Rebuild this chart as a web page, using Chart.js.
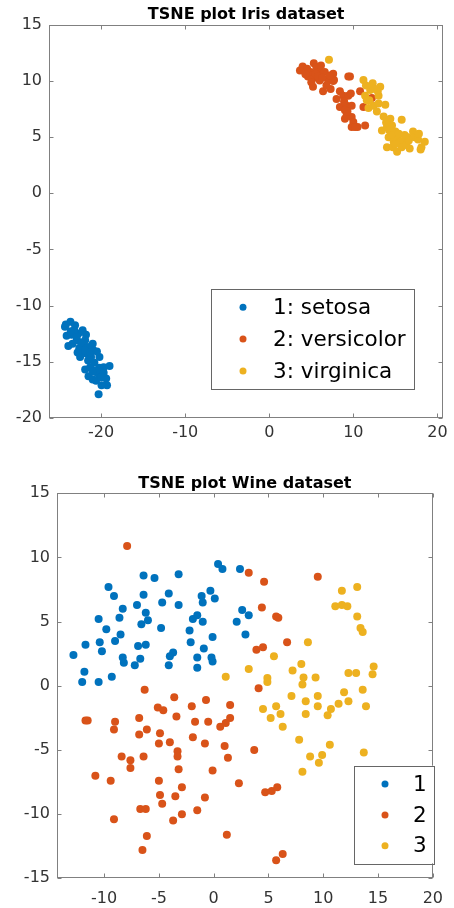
<!DOCTYPE html>
<html><head><meta charset="utf-8">
<script src="https://cdn.jsdelivr.net/npm/chart.js@4"></script>
<style>
html,body{margin:0;padding:0;background:#fff;}
#wrap{position:relative;width:454px;height:908px;overflow:hidden;}
.box{position:absolute;left:0;width:454px;height:454px;}
</style></head><body>
<div id="wrap">
<div class="box" style="top:0"><canvas id="c1" width="454" height="454"></canvas></div>
<div class="box" style="top:454px"><canvas id="c2" width="454" height="454"></canvas></div>
</div>
<script>
const FONT = "'DejaVu Sans', sans-serif";
const COLORS = ['#0072BD', '#D95319', '#EDB120'];

// ---------- Iris ----------
const irisTitle = "TSNE plot Iris dataset";
const irisLabels = ["1: setosa", "2: versicolor", "3: virginica"];
const irisXTicks = [-20, -10, 0, 10, 20];
const irisYTicks = [-20, -15, -10, -5, 0, 5, 10, 15];
const setosaX = [-24.2,-23.65,-23.1,-24.1,-23.9,-23.5,-22.7,-22.9,-22.2,-21.8,-22.2,-22.3,-22.5,-21.7,-21.55,-21.0,-20.95,-21.2,-20.2,-21.9,-21.3,-21.5,-21.0,-20.4,-20.6,-20.2,-19.7,-19.4,-19.3,-19.95,-20.3,-19.0,-19.7,-21.55,-23.2,-24.3,-22.6,-21.9,-23.6,-22.9,-22.4,-21.9,-21.3,-20.8,-20.6,-21.0,-20.0,-22.8,-23.4,-20.5];
const setosaY = [-11.7,-11.45,-11.75,-12.7,-13.6,-12.6,-12.5,-13.1,-12.2,-12.6,-13.5,-14.1,-14.6,-14.3,-14.9,-13.4,-13.97,-14.6,-14.6,-15.7,-15.5,-16.3,-16.6,-16.05,-16.7,-15.55,-15.5,-16.5,-17.1,-17.1,-17.9,-15.4,-16.0,-13.7,-12.2,-11.9,-13.8,-13.1,-12.3,-12.8,-13.3,-14.0,-14.2,-15.1,-15.8,-15.9,-16.4,-14.2,-13.4,-14.1];
const versicolorX = [3.65,3.97,5.3,4.6,4.9,5.6,5.95,5.4,5.0,6.0,6.6,7.6,7.7,7.0,7.3,6.4,4.5,6.15,5.5,9.6,9.4,8.4,8.0,8.8,9.4,9.7,8.4,9.2,9.8,9.0,9.2,9.0,9.8,10.0,9.8,10.5,11.4,10.8,11.2,12.2,5.2,7.6,5.8,6.3,4.3,7.2,6.8,8.9,9.3,10.2];
const versicolorY = [10.95,11.3,11.6,10.4,10.8,11.25,10.8,10.3,9.9,10.06,10.8,10.65,10.1,10.1,9.3,9.1,11.1,11.4,10.65,10.4,10.4,9.1,8.4,8.7,8.7,8.9,7.7,7.8,7.8,7.4,6.9,6.65,6.8,6.35,5.9,5.9,6.05,9.1,7.7,8.5,9.5,10.0,10.4,10.3,10.6,10.5,9.6,8.2,7.3,5.9];
const virginicaX = [7.1,11.2,12.3,13.2,12.6,12.0,11.4,11.6,12.4,11.8,13.8,13.6,14.4,15.75,13.4,14.0,14.6,15.0,14.2,15.2,14.0,14.7,15.2,15.6,16.0,16.5,17.1,17.3,17.7,18.5,18.1,16.7,18.0,15.75,16.1,13.0,11.9,12.9,11.5,14.8,15.4,16.3,17.8,14.3,13.9,15.0,12.8,16.6,13.0,14.5];
const virginicaY = [11.9,10.1,9.8,9.5,9.3,9.2,8.7,8.3,7.8,7.6,7.9,6.85,6.65,6.55,5.6,5.9,6.05,5.5,5.0,5.0,4.1,4.1,3.7,4.6,4.7,5.0,5.5,5.0,4.8,4.6,4.1,4.0,3.9,4.1,5.2,8.7,8.3,9.1,9.6,4.6,5.3,4.3,5.3,5.6,6.3,4.4,7.3,4.7,8.0,5.2];

// ---------- Wine ----------
const wineTitle = "TSNE plot Wine dataset";
const wineLabels = ["1", "2", "3"];
const wineXTicks = [-10, -5, 0, 5, 10, 15, 20];
const wineYTicks = [-15, -10, -5, 0, 5, 10, 15];
const wine1X = [-12.8,-11.7,-11.8,-12.0,-10.5,-10.5,-10.4,-10.2,-9.6,-9.1,-9.8,-9.3,-9.0,-8.6,-8.3,-8.5,-8.3,-8.2,-7.0,-6.4,-6.4,-6.2,-6.0,-6.6,-6.9,-6.2,-6.7,-7.2,-5.4,-4.7,-4.1,-4.8,-3.7,-4.0,-4.1,-3.2,-3.2,-2.2,-2.1,-1.9,-1.5,-1.0,-1.1,-1.0,-1.5,-1.5,-0.9,-0.3,0.1,-0.1,-0.2,-0.1,0.4,0.8,2.4,2.6,3.2,2.1,2.9];
const wine1Y = [2.4,3.2,1.1,0.3,0.3,5.2,3.4,2.7,7.7,7.0,4.4,0.7,3.5,5.3,6.0,4.0,2.2,1.8,6.3,8.6,7.1,5.7,5.1,4.8,3.1,3.2,2.1,1.6,8.4,6.5,7.2,4.5,2.6,2.3,1.6,8.7,6.3,4.3,3.4,5.2,5.5,5.0,7.0,6.5,2.2,1.4,2.9,7.4,6.8,3.8,2.2,1.9,9.5,9.1,9.1,5.9,5.5,5.0,4.0];
const wine2X = [-7.9,3.2,4.6,4.4,5.7,5.9,9.5,6.7,3.9,4.5,4.1,-6.3,-3.6,-0.7,-2.0,-5.1,-4.6,1.5,-3.4,-6.8,1.5,-11.5,-11.7,-9.0,-1.7,-0.5,1.1,0.6,-6.1,-9.1,-6.8,-4.9,-1.9,-4.0,-5.0,-0.8,1.0,-3.3,3.7,-3.3,1.3,-8.4,-6.4,-7.6,-7.6,-3.2,-0.1,-10.8,-9.4,-5.0,2.3,-2.9,4.7,5.3,5.8,-4.9,-3.5,-4.7,-0.8,-6.7,-6.2,-1.5,-2.9,-3.7,-9.1,-6.1,1.2,-6.5,6.3,5.7];
const wine2Y = [10.9,8.8,8.1,6.1,5.4,5.3,8.5,3.4,2.8,3.0,-0.2,-0.3,-0.9,-1.1,-1.6,-1.7,-1.9,-1.5,-2.4,-2.5,-2.5,-2.7,-2.7,-2.8,-2.8,-2.8,-2.9,-3.2,-3.4,-3.4,-3.8,-3.7,-4.0,-4.4,-4.5,-4.5,-4.7,-5.1,-5.0,-5.5,-5.6,-5.5,-5.5,-5.8,-6.4,-6.5,-6.6,-7.0,-7.4,-7.4,-7.6,-7.9,-8.3,-8.2,-7.9,-8.5,-8.6,-9.2,-8.7,-9.6,-9.6,-9.7,-10.0,-10.5,-10.4,-11.7,-11.6,-12.8,-13.1,-13.6];
const wine3X = [1.1,3.2,5.5,4.9,4.9,7.2,8.0,8.2,8.1,8.6,9.3,11.1,11.7,11.7,12.2,13.1,13.1,13.4,13.6,12.3,13.0,14.6,14.5,11.9,13.6,7.1,9.5,8.4,12.3,11.4,13.9,5.7,9.5,4.5,10.7,6.1,8.4,10.4,5.2,6.3,7.8,10.6,13.7,8.8,9.9,9.6,8.1];
const wine3Y = [0.7,1.3,2.3,0.6,0.3,1.2,1.7,0.65,0.1,3.4,0.65,6.2,7.4,6.3,6.2,7.7,5.4,4.5,4.2,1.0,1.0,1.5,0.9,-0.5,-0.3,-0.8,-0.8,-1.2,-1.2,-1.4,-1.6,-1.6,-1.6,-1.8,-1.8,-2.2,-2.2,-2.3,-2.5,-3.2,-4.2,-4.6,-5.2,-5.5,-5.4,-6.0,-6.7];

function framePlugin(cfg) {
  return {
    id: 'frame',
    afterDraw(chart) {
      const ctx = chart.ctx, a = chart.chartArea, xs = chart.scales.x, ys = chart.scales.y;
      ctx.save();
      ctx.strokeStyle = '#808080';
      ctx.lineWidth = 1;
      const L = Math.round(a.left) + 0.5, R = Math.round(a.right) - 0.5;
      const T = Math.round(a.top) + 0.5, B = Math.round(a.bottom) - 0.5;
      ctx.strokeRect(L, T, R - L, B - T);
      const tl = 4;
      ctx.beginPath();
      cfg.xticks.forEach(v => {
        const px = Math.round(xs.getPixelForValue(v)) + 0.5;
        ctx.moveTo(px, B); ctx.lineTo(px, B - tl);
        ctx.moveTo(px, T); ctx.lineTo(px, T + tl);
      });
      cfg.yticks.forEach(v => {
        const py = Math.round(ys.getPixelForValue(v)) + 0.5;
        ctx.moveTo(L, py); ctx.lineTo(L + tl, py);
        ctx.moveTo(R, py); ctx.lineTo(R - tl, py);
      });
      ctx.stroke();
      // title
      ctx.fillStyle = '#000';
      ctx.font = 'bold 16px ' + FONT;
      ctx.textAlign = 'center';
      ctx.textBaseline = 'alphabetic';
      ctx.fillText(cfg.title, (a.left + a.right) / 2, cfg.titleY);
      // legend
      const lg = cfg.legend;
      ctx.fillStyle = '#fff';
      ctx.fillRect(lg.x, lg.y, lg.w, lg.h);
      ctx.strokeStyle = '#666';
      ctx.strokeRect(Math.round(lg.x) + 0.5, Math.round(lg.y) + 0.5, Math.round(lg.w), Math.round(lg.h));
      ctx.font = '21.5px ' + FONT;
      ctx.textAlign = 'left';
      ctx.textBaseline = 'middle';
      cfg.labels.forEach((t, i) => {
        const yy = lg.rows[i];
        ctx.fillStyle = COLORS[i];
        ctx.beginPath(); ctx.arc(lg.mx, yy, 3.5, 0, Math.PI * 2); ctx.fill();
        ctx.fillStyle = '#000';
        ctx.fillText(t, lg.tx, yy + 1);
      });
      ctx.restore();
    }
  };
}

function makeChart(id, cfg) {
  new Chart(document.getElementById(id), {
    type: 'scatter',
    data: {
      datasets: cfg.series.map((s, i) => ({
        label: cfg.labels[i],
        data: s.x.map((v, k) => ({x: v, y: s.y[k]})),
        backgroundColor: COLORS[i],
        borderWidth: 0,
        pointRadius: 4,
        pointHoverRadius: 4,
        order: 2 - i
      }))
    },
    options: {
      responsive: false, animation: false, devicePixelRatio: 1,
      layout: {padding: cfg.pad},
      plugins: {legend: {display: false}, tooltip: {enabled: false}, title: {display: false}},
      scales: {
        x: {
          type: 'linear', min: cfg.xmin, max: cfg.xmax,
          grid: {display: false, drawTicks: false}, border: {display: false},
          ticks: {font: {family: FONT, size: 16}, color: '#333', padding: cfg.xpad, maxRotation: 0, autoSkip: false},
          afterBuildTicks: s => { s.ticks = cfg.xticks.map(v => ({value: v})); },
          afterFit: s => { s.height = cfg.xh; }
        },
        y: {
          type: 'linear', min: cfg.ymin, max: cfg.ymax,
          grid: {display: false, drawTicks: false}, border: {display: false},
          ticks: {font: {family: FONT, size: 16}, color: '#333', padding: 7, autoSkip: false},
          afterBuildTicks: s => { s.ticks = cfg.yticks.map(v => ({value: v})); },
          afterFit: s => { s.width = cfg.yw; }
        }
      }
    },
    plugins: [framePlugin(cfg)]
  });
}

makeChart('c1', {
  title: irisTitle, titleY: 18.5, labels: irisLabels,
  series: [{x: setosaX, y: setosaY}, {x: versicolorX, y: versicolorY}, {x: virginicaX, y: virginicaY}],
  xmin: -26.2, xmax: 20.7, ymin: -20, ymax: 15,
  xticks: irisXTicks, yticks: irisYTicks,
  pad: {left: 0, right: 10.7, top: 25, bottom: 0}, xh: 36.3, yw: 49, xpad: 5.5,
  legend: {x: 211, y: 289, w: 203, h: 100, mx: 243, tx: 273, rows: [307.3, 339, 371]}
});

makeChart('c2', {
  title: wineTitle, titleY: 34.3, labels: wineLabels,
  series: [{x: wine1X, y: wine1Y}, {x: wine2X, y: wine2Y}, {x: wine3X, y: wine3Y}],
  xmin: -14.3, xmax: 20, ymin: -15, ymax: 15,
  xticks: wineXTicks, yticks: wineYTicks,
  pad: {left: 0, right: 12.5, top: 39.3, bottom: 0}, xh: 29.7, yw: 57, xpad: 11,
  legend: {x: 354, y: 311.7, w: 80, h: 97.6, mx: 385, tx: 413, rows: [330, 361, 391.7]}
});
</script>
</body></html>
